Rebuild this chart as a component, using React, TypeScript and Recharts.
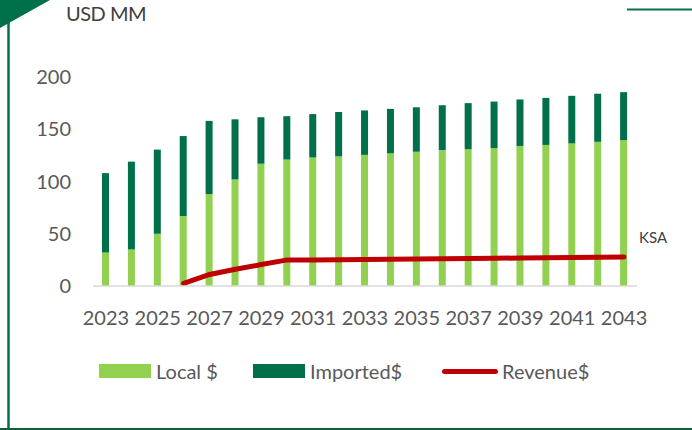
import React from "react";
import {
  ComposedChart,
  Bar,
  Line,
  XAxis,
  YAxis,
  Legend,
  LabelList,
} from "recharts";

const YEARS = [
  "2023", "2024", "2025", "2026", "2027", "2028", "2029", "2030", "2031", "2032", "2033",
  "2034", "2035", "2036", "2037", "2038", "2039", "2040", "2041", "2042", "2043",
];
const LOCAL = [32, 35, 50, 67, 88, 102, 117, 121, 123, 124, 125.5, 127, 128.5, 130, 131, 132, 134, 135, 136.5, 138, 139.5];
const IMPORTED = [76, 84, 80.5, 76.5, 70, 57.5, 44.5, 41.5, 41.5, 42.5, 42.5, 42.5, 42.5, 43, 44, 44.5, 44.5, 45, 45.5, 46, 46];
const REVENUE: (number | null)[] = [
  null, null, null, 2.5, 11, 16, 20.5, 25, 25, 25.2, 25.4, 25.6, 25.8, 26, 26.3, 26.5, 26.8, 27, 27.3, 27.5, 27.8,
];
const Y_TICKS = [0, 50, 100, 150, 200];

const LOCAL_COLOR = "#92D050";
const IMPORTED_COLOR = "#00704A";
const REVENUE_COLOR = "#C00000";
const FONT = "Lato, 'Open Sans', sans-serif";

const data = YEARS.map((year, i) => ({
  year,
  local: LOCAL[i],
  imported: IMPORTED[i],
  revenue: REVENUE[i],
}));

const LEGEND_ORDER = ["local", "imported", "revenue"];
const LEGEND_X: Record<string, number> = { local: 99, imported: 253, revenue: 442 };

function ChartLegend({ payload }: any) {
  const items = [...(payload || [])].sort(
    (a: any, b: any) => LEGEND_ORDER.indexOf(a.dataKey) - LEGEND_ORDER.indexOf(b.dataKey)
  );
  return (
    <div style={{ position: "relative", height: 20, width: 692 }}>
      {items.map((entry: any) => {
        const isLine = entry.dataKey === "revenue";
        return (
          <div
            key={entry.dataKey}
            style={{
              position: "absolute",
              left: LEGEND_X[entry.dataKey],
              top: 0,
              display: "flex",
              alignItems: "center",
              height: 20,
              fontFamily: FONT,
              fontSize: 20,
              color: "#595959",
              whiteSpace: "nowrap",
            }}
          >
            {isLine ? (
              <span
                style={{
                  display: "inline-block",
                  width: 56,
                  height: 5,
                  borderRadius: 3,
                  background: entry.color,
                  marginRight: 4,
                }}
              />
            ) : (
              <span
                style={{
                  display: "inline-block",
                  width: 52,
                  height: 14,
                  background: entry.color,
                  marginRight: 5,
                }}
              />
            )}
            {entry.value}
          </div>
        );
      })}
    </div>
  );
}

function KsaLabel(props: any) {
  const { x, y, index } = props;
  if (index !== YEARS.length - 1) return null;
  return (
    <text x={x + 15} y={y - 18} fontFamily={FONT} fontSize={15} fill="#404040" dominantBaseline="middle">
      KSA
    </text>
  );
}

export default function App() {
  return (
    <div style={{ position: "absolute", left: 0, top: 0, width: 692, height: 430, background: "#fff" }}>
      <svg width={692} height={430} style={{ position: "absolute", left: 0, top: 0 }}>
        <polygon points="0,0 50,0 0,28" fill="#00704A" />
        <line x1={8.5} y1={20} x2={8.5} y2={430} stroke="#00704A" strokeWidth={2.5} />
        <line x1={0} y1={429} x2={692} y2={429} stroke="#0E5E3E" strokeWidth={2} />
        <line x1={627} y1={9.5} x2={692} y2={9.5} stroke="#0E7048" strokeWidth={2} />
        <text x={66} y={16} fontFamily={FONT} fontSize={20} fill="#404040" dominantBaseline="middle" letterSpacing={-0.5}>
          USD MM
        </text>
      </svg>
      <div style={{ position: "absolute", left: 0, top: 0 }}>
        <ComposedChart width={692} height={430} data={data} margin={{ top: 77, right: 55, bottom: 84, left: 0 }}>
          <XAxis
            dataKey="year"
            interval={1}
            tickLine={false}
            tickSize={0}
            tickMargin={25}
            axisLine={{ stroke: "#D9D9D9", strokeWidth: 1.5 }}
            tick={{ fill: "#595959", fontSize: 20, fontFamily: FONT }}
            height={40}
          />
          <YAxis
            domain={[0, 200]}
            ticks={Y_TICKS}
            width={93}
            axisLine={false}
            tickLine={false}
            tickSize={0}
            tickMargin={22}
            tick={{ fill: "#595959", fontSize: 20, fontFamily: FONT }}
          />
          <Legend
            content={<ChartLegend />}
            wrapperStyle={{ position: "absolute", top: 361, left: 0, width: 692 }}
          />
          <Bar dataKey="local" name="Local $" stackId="a" fill={LOCAL_COLOR} barSize={7} isAnimationActive={false} />
          <Bar dataKey="imported" name="Imported$" stackId="a" fill={IMPORTED_COLOR} barSize={7} isAnimationActive={false} />
          <Line
            dataKey="revenue"
            name="Revenue$"
            type="linear"
            stroke={REVENUE_COLOR}
            strokeWidth={5}
            strokeLinecap="round"
            dot={false}
            activeDot={false}
            isAnimationActive={false}
          >
            <LabelList dataKey="revenue" content={<KsaLabel />} />
          </Line>
        </ComposedChart>
      </div>
    </div>
  );
}
